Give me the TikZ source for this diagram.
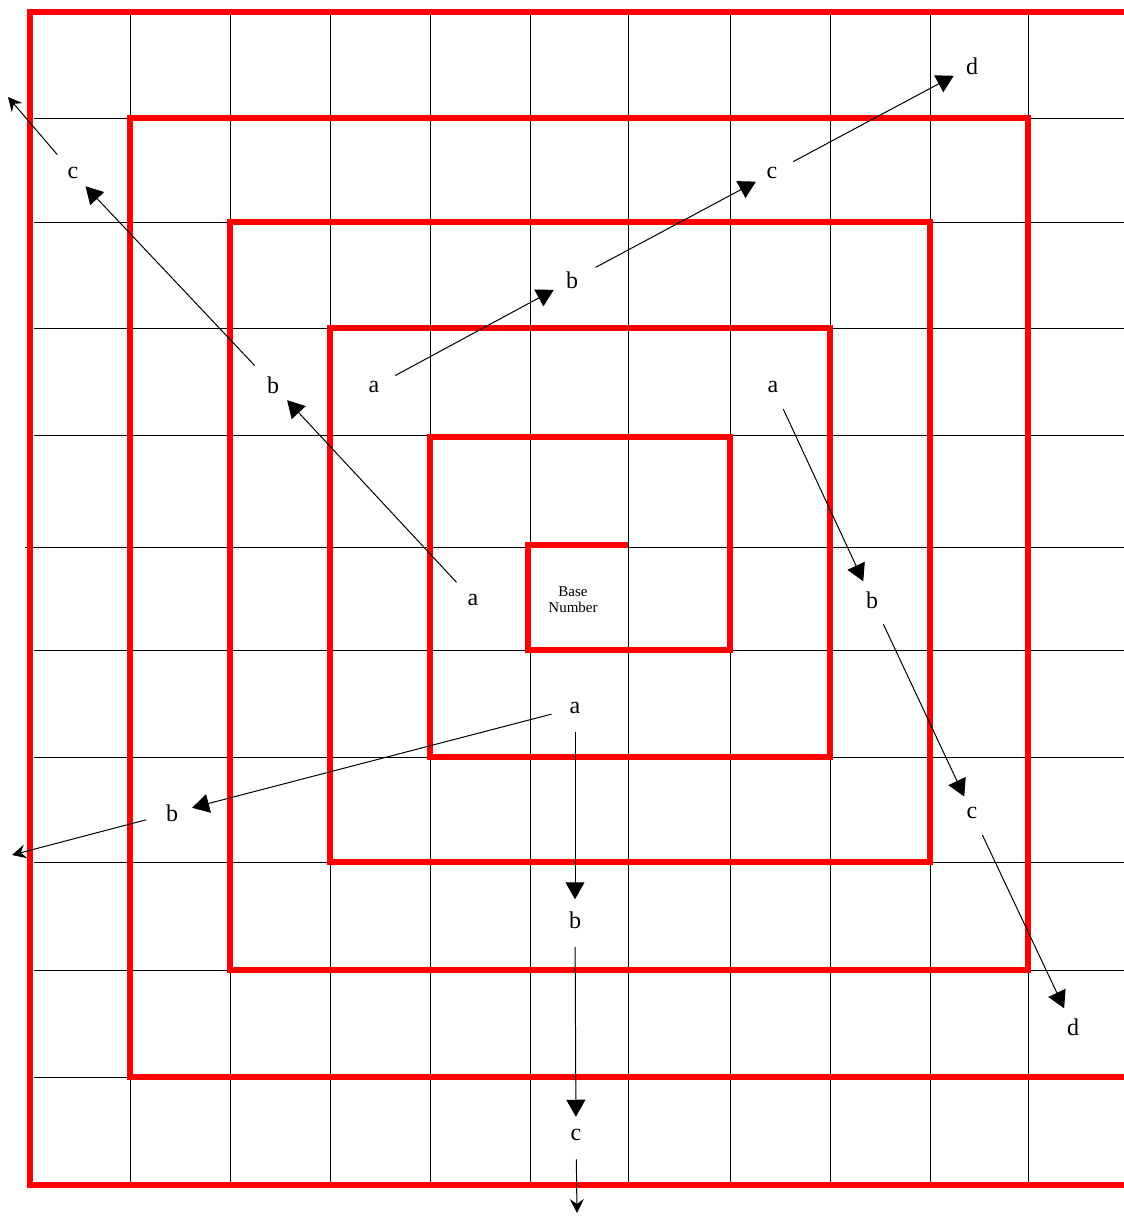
\documentclass[tikz,border=0pt]{standalone}
\usepackage{fontspec}
\setmainfont{Liberation Serif}
\usetikzlibrary{arrows.meta}

\begin{document}
\begin{tikzpicture}[x=0.5pt,y=-0.5pt,
  grid/.style={line width=0.5pt},
  spiral/.style={red,line width=2.8pt},
  lbl/.style={circle,inner sep=0pt,font=\fontsize{12}{14}\selectfont},
  big/.style={->,line width=0.5pt,>={Triangle[length=8.5pt,width=9.5pt]},shorten <=8pt,shorten >=5pt},
  small/.style={->,line width=0.5pt,>={Stealth[length=7pt,width=7pt,inset=2.5pt]},shorten <=8pt}]
\useasboundingbox (0,0) rectangle (1124,1217);
\begin{scope}
\clip (0,0) rectangle (1124,1217);
\foreach \x in {130,230,330,430,530,628,730,830,930,1028} \draw[grid] (\x,12) -- (\x,1185);
\foreach \y in {118,222,328,435,650,757,862,970,1077} \draw[grid] (34,\y) -- (1124,\y);
\draw[grid] (25,547) -- (1124,547);
\draw[spiral] (628,545) -- (528,545) -- (528,650) -- (730,650) -- (730,437) -- (430,437) -- (430,757)
  -- (830,757) -- (830,328) -- (330,328) -- (330,862) -- (930,862) -- (930,222) -- (230,222)
  -- (230,970) -- (1028,970) -- (1028,118) -- (130,118) -- (130,1077) -- (1130,1077) -- (1130,12)
  -- (30,12) -- (30,1185) -- (1140,1185);
\end{scope}
\node[align=center,font=\fontsize{7.5}{8}\selectfont] (base) at (573,600) {Base\\Number};
\node[lbl] (a1) at (473,600) {a};
\node[lbl] (b1) at (273,385) {b};
\node[lbl] (c1) at (73,173) {c};
\coordinate (out1) at (8,97);
\node[lbl] (a2) at (374,387) {a};
\node[lbl] (b2) at (572,280) {b};
\node[lbl] (c2) at (772,173) {c};
\node[lbl] (d2) at (972,66) {d};
\node[lbl] (a3) at (773,387) {a};
\node[lbl] (b3) at (872,600) {b};
\node[lbl] (c3) at (972,813) {c};
\node[lbl] (d3) at (1073,1027) {d};
\node[lbl] (a4) at (575,708) {a};
\node[lbl] (b4) at (172,813) {b};
\coordinate (out4) at (12,855);
\node[lbl] (b5) at (575,920) {b};
\node[lbl] (c5) at (576,1135) {c};
\coordinate (out5) at (577,1213);
\draw[big] (a1) -- (b1);
\draw[big] (b1) -- (c1);
\draw[small] (c1) -- (out1);
\draw[big] (a2) -- (b2);
\draw[big] (b2) -- (c2);
\draw[big] (c2) -- (d2);
\draw[big] (a3) -- (b3);
\draw[big] (b3) -- (c3);
\draw[big] (c3) -- (d3);
\draw[big] (a4) -- (b4);
\draw[small] (b4) -- (out4);
\draw[big] (a4) -- (b5);
\draw[big] (b5) -- (c5);
\draw[small] (c5) -- (out5);
\end{tikzpicture}
\end{document}
